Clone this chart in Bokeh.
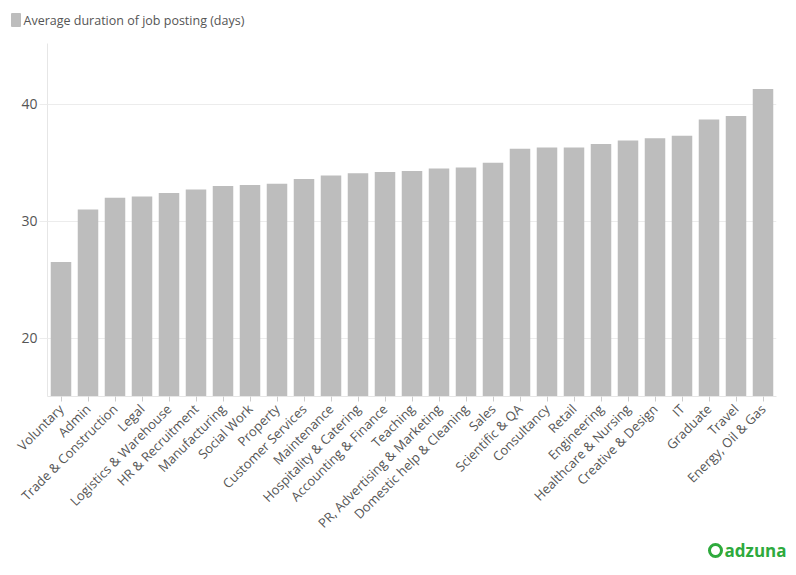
import math
from bokeh.plotting import figure
from bokeh.layouts import column
from bokeh.models import ColumnDataSource, Range1d, FactorRange
from bokeh.core.properties import value
from bokeh.embed import file_html
from bokeh.resources import INLINE

categories = ["Voluntary", "Admin", "Trade & Construction", "Legal", "Logistics & Warehouse",
              "HR & Recruitment", "Manufacturing", "Social Work", "Property", "Customer Services",
              "Maintenance", "Hospitality & Catering", "Accounting & Finance", "Teaching",
              "PR, Advertising & Marketing", "Domestic help & Cleaning", "Sales", "Scientific & QA",
              "Consultancy", "Retail", "Engineering", "Healthcare & Nursing", "Creative & Design",
              "IT", "Graduate", "Travel", "Energy, Oil & Gas"]
durations = [26.5, 31.0, 32.0, 32.1, 32.4, 32.7, 33.0, 33.1, 33.2, 33.6, 33.9, 34.1, 34.2, 34.3,
             34.5, 34.6, 35.0, 36.2, 36.3, 36.3, 36.6, 36.9, 37.1, 37.3, 38.7, 39.0, 41.3]
y_ticks = [20, 30, 40]
series_name = "Average duration of job posting (days)"
brand = "adzuna"

FONT = "Open Sans"
TXT = "#555555"
BAR = "#bdbdbd"
GREEN = "#2eaa3d"
W = 790


def blank_fig(h):
    f = figure(width=W, height=h, output_backend="svg", toolbar_location=None,
               x_range=Range1d(0, W), y_range=Range1d(h, 0),
               min_border=0, min_border_left=0, min_border_right=0,
               min_border_top=0, min_border_bottom=0, frame_align=False)
    f.axis.visible = False
    f.grid.visible = False
    f.outline_line_color = None
    f.background_fill_color = "white"
    f.border_fill_color = "white"
    return f


# ---- legend strip ----
leg = blank_fig(30)
leg.rect(x=[15.5], y=[19.5], width=[8], height=[12], fill_color=BAR, line_color=BAR,
         line_width=2, line_join="round")
leg.text(x=[23], y=[19.5], text=[series_name], text_font=value(FONT),
         text_font_size="12.5px", text_color=TXT, text_baseline="middle", text_align="left")

# ---- main chart ----
src = ColumnDataSource(dict(cat=categories, val=durations))

p = figure(width=W, height=510, output_backend="svg", toolbar_location=None,
           x_range=FactorRange(*categories, range_padding=0.0),
           y_range=Range1d(15, 45.2), frame_align=False,
           min_border_left=47, min_border_right=14, min_border_top=13, min_border_bottom=140)

p.vbar(x="cat", top="val", bottom=15, width=0.76, source=src,
       fill_color=BAR, line_color=None)

p.outline_line_color = None
p.background_fill_color = "white"
p.border_fill_color = "white"

p.xgrid.grid_line_color = None
p.ygrid.grid_line_color = "#ececec"
p.ygrid.grid_line_width = 1
p.ygrid.ticker = y_ticks

p.yaxis.ticker = y_ticks
p.yaxis.axis_line_color = "#e6e6e6"
p.yaxis.major_tick_line_color = "#ececec"
p.yaxis.major_tick_in = 0
p.yaxis.major_tick_out = 8
p.yaxis.minor_tick_line_color = None
p.yaxis.major_label_text_font = FONT
p.yaxis.major_label_text_font_size = "14px"
p.yaxis.major_label_text_color = TXT
p.yaxis.major_label_standoff = 2

p.xaxis.axis_line_color = "#e6e6e6"
p.xaxis.major_tick_line_color = "#cccccc"
p.xaxis.major_tick_in = 0
p.xaxis.major_tick_out = 5
p.xaxis.major_label_orientation = math.pi / 4
p.xaxis.major_label_text_font = FONT
p.xaxis.major_label_text_font_size = "13px"
p.xaxis.major_label_text_color = TXT
p.xaxis.major_label_standoff = 5

# ---- logo strip ----
logo = blank_fig(30)
logo.text(x=[786], y=[10], text=[brand], text_font=value(FONT), text_font_size="17px",
          text_font_style="bold", text_color=GREEN, text_baseline="middle", text_align="right")
logo.annulus(x=[715], y=[10], inner_radius=[4.5], outer_radius=[7.5],
             fill_color=GREEN, line_color=None)

layout = column(leg, p, logo, spacing=0)
open("out.html", "w").write(file_html(layout, INLINE))
